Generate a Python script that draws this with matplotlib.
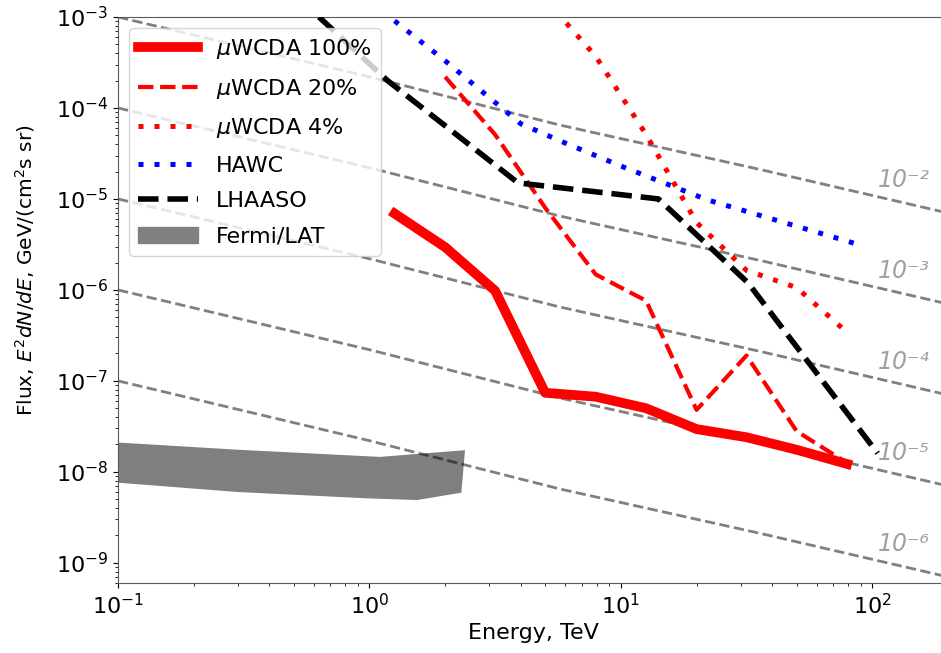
import matplotlib
matplotlib.use('Agg')
import matplotlib.pyplot as plt
import numpy as np

plt.rcParams['font.size'] = 16

# energies (TeV) of the uWCDA points
wcda_E = [1.26, 2.0, 3.16, 5.0, 7.94, 12.6, 20.0, 31.6, 50.0, 79.4]
wcda_100 = [6.9e-6, 2.95e-6, 9.8e-7, 7.4e-8, 6.7e-8, 5.0e-8, 2.95e-8, 2.4e-8, 1.75e-8, 1.22e-8]

wcda20_E = [2.0, 3.16, 5.0, 7.94, 12.6, 20.0, 31.6, 50.0, 79.4]
wcda_20 = [2.2e-4, 5.1e-5, 8.0e-6, 1.48e-6, 7.6e-7, 4.8e-8, 1.9e-7, 2.8e-8, 1.25e-8]

wcda4_E = [5.0, 7.94, 12.6, 20.0, 31.6, 50.0, 79.4]
wcda_4 = [1.57e-3, 3.7e-4, 5.1e-5, 5.5e-6, 1.64e-6, 1.06e-6, 3.4e-7]

hawc_E = [1.0, 2.0, 4.0, 5.9, 10.0, 22.0, 90.0]
hawc = [1.5e-3, 3.3e-4, 6.7e-5, 4.2e-5, 2.3e-5, 9.8e-6, 3.1e-6]

lhaaso_E = [0.63, 1.18, 3.9, 14.1, 32.0, 105.0]
lhaaso = [1.0e-3, 2.0e-4, 1.5e-5, 1.0e-5, 1.2e-6, 1.6e-8]

fermi_up_E = [0.1, 0.3, 1.1, 2.4]
fermi_up = [2.1e-8, 1.75e-8, 1.46e-8, 1.73e-8]
fermi_lo_E = [0.1, 0.3, 1.0, 1.55, 2.32]
fermi_lo = [7.6e-9, 6.0e-9, 5.1e-9, 4.9e-9, 5.9e-9]

# reference spectrum shape, scaled by the fractions below
ref_E = [0.1, 1.0, 5.7, 36.0, 200.0]
ref_flux = [1.0e-1, 2.2e-2, 6.5e-3, 2.1e-3, 7.0e-4]
fractions = [1e-2, 1e-3, 1e-4, 1e-5, 1e-6]
frac_labels = ['10⁻²', '10⁻³', '10⁻⁴', '10⁻⁵', '10⁻⁶']

fig = plt.figure(figsize=(9.41, 6.53), dpi=100)
ax = fig.add_axes([118/941, 70/653, 830/941, 566/653])

for f, lab in zip(fractions, frac_labels):
    ax.plot(ref_E, np.array(ref_flux) * f, '--', color='gray', lw=2, zorder=1)
    ax.text(105, f * 1.6e-3, lab, color='#a0a0a0', fontsize=17, style='italic',
            ha='left', va='center')

fx = np.concatenate([fermi_up_E, fermi_lo_E[::-1]])
fy = np.concatenate([fermi_up, fermi_lo[::-1]])
ax.fill(fx, fy, color='k', alpha=0.5, lw=0, zorder=2)

ax.plot(wcda_E, wcda_100, '-', color='red', lw=7, label=r'$\mu$WCDA 100%', zorder=3)
ax.plot(wcda20_E, wcda_20, '--', color='red', lw=3, label=r'$\mu$WCDA 20%', zorder=3)
ax.plot(wcda4_E, wcda_4, color='red', lw=3.6, ls=(0, (1, 2.2)), label=r'$\mu$WCDA 4%', zorder=3)
ax.plot(hawc_E, hawc, color='blue', lw=3.6, ls=(0, (1, 2.2)), label='HAWC', zorder=3)
ax.plot(lhaaso_E, lhaaso, '--', color='k', lw=4, label='LHAASO', zorder=3)
ax.fill([], [], color='gray', label='Fermi/LAT')

ax.set_xscale('log')
ax.set_yscale('log')
ax.set_xlim(0.1, 200)
ax.set_ylim(6e-10, 1e-3)
ax.set_xlabel('Energy, TeV', fontsize=16)
ax.set_ylabel(r'Flux, $E^2dN/dE$, GeV/(cm$^2$s sr)', fontsize=14.5)
ax.yaxis.set_label_coords(-0.097, 0.553)
for s in ax.spines.values():
    s.set_color('0.35')

ax.legend(loc='upper left', fontsize=16, handlelength=2.7, labelspacing=0.7)

fig.savefig('out.png', dpi=100)
